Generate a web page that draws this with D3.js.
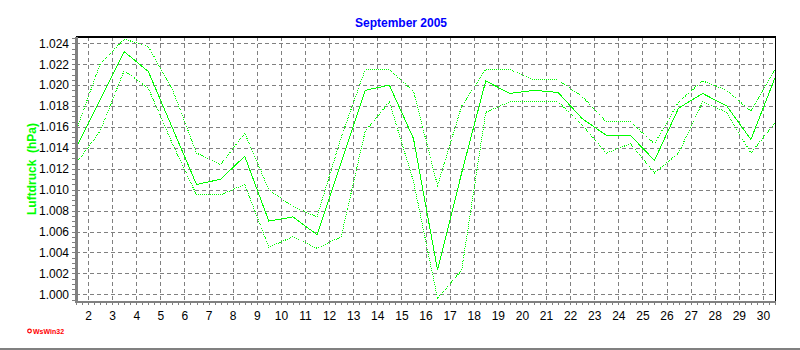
<!DOCTYPE html>
<html>
<head>
<meta charset="utf-8">
<script src="https://cdn.jsdelivr.net/npm/d3@7"></script>
<style>
  body { margin: 0; background: #fff; }
  #chart { width: 800px; height: 350px; }
</style>
</head>
<body>
<div id="chart"></div>
<script>
// Luftdruck September 2005 (hPa), one value per day
const days = d3.range(1, 31);
const meanPressure = [1014.0, 1018.6, 1023.2, 1021.3, 1015.9, 1010.5, 1011.0, 1013.2, 1007.0, 1007.4,
    1005.7, 1012.6, 1019.5, 1020.0, 1014.9, 1002.3, 1011.6, 1020.4, 1019.2, 1019.5,
    1019.3, 1016.8, 1015.2, 1015.2, 1012.8, 1017.8, 1019.2, 1018.0, 1014.8, 1020.7];
const maxPressure = [1015.6, 1022.0, 1024.4, 1023.7, 1019.6, 1013.5, 1012.4, 1015.4, 1010.0, 1008.4,
    1007.4, 1015.0, 1021.5, 1021.5, 1019.4, 1010.4, 1018.0, 1021.5, 1021.5, 1020.5,
    1020.5, 1018.9, 1016.5, 1016.5, 1014.4, 1018.4, 1020.4, 1019.5, 1017.5, 1021.5];
const minPressure = [1012.5, 1015.6, 1021.4, 1019.7, 1014.4, 1009.5, 1009.5, 1010.5, 1004.5, 1005.5,
    1004.4, 1005.5, 1015.6, 1018.4, 1010.8, 999.6, 1002.3, 1017.4, 1018.4, 1018.4,
    1018.4, 1016.2, 1013.5, 1014.4, 1011.6, 1013.5, 1018.4, 1017.4, 1013.5, 1016.4];
const xTickDays = d3.range(2, 31);
const yTickValues = d3.range(1000, 1025, 2);

const TITLE = "September 2005";
const Y_TITLE = "Luftdruck\u00a0\u00a0(hPa)";

const width = 800;
const height = 350;
const margin = ({ top: 37, right: 25, bottom: 49, left: 76 });

const deLocale = d3.formatLocale({ decimal: ",", thousands: ".", grouping: [3], currency: ["", " €"] });
const fmt = deLocale.format(",");

const xScale = d3.scaleLinear()
    .domain([1.5, 30.5])
    .range([margin.left, width - margin.right]);

const yScale = d3.scaleLinear()
    .domain([999.36, 1024.6])
    .range([height - margin.bottom, margin.top]);

const svg = d3.select("#chart")
    .append("svg")
    .attr("width", width)
    .attr("height", height)
    .attr("viewBox", [0, 0, width, height])
    .style("font-family", "Arial, 'Liberation Sans', sans-serif");

// grid
svg.append("g")
    .attr("stroke", "#808080")
    .attr("stroke-dasharray", "4,3")
    .attr("shape-rendering", "crispEdges")
    .call(g => g.selectAll("line.h")
        .data(yTickValues)
        .join("line")
        .attr("class", "h")
        .attr("x1", margin.left)
        .attr("x2", width - margin.right)
        .attr("y1", d => Math.round(yScale(d)) + 0.5)
        .attr("y2", d => Math.round(yScale(d)) + 0.5))
    .call(g => g.selectAll("line.v")
        .data(xTickDays)
        .join("line")
        .attr("class", "v")
        .attr("x1", d => Math.round(xScale(d)) + 0.5)
        .attr("x2", d => Math.round(xScale(d)) + 0.5)
        .attr("y1", margin.top)
        .attr("y2", height - margin.bottom));

// frame: black top/right, gray thick left/bottom
svg.append("rect")
    .attr("x", margin.left)
    .attr("y", margin.top - 1)
    .attr("width", width - margin.right - margin.left + 1)
    .attr("height", 2)
    .attr("fill", "#000");

svg.append("rect")
    .attr("x", width - margin.right)
    .attr("y", margin.top - 1)
    .attr("width", 1)
    .attr("height", height - margin.bottom - margin.top + 1)
    .attr("fill", "#000");

// lines
const line = data => d3.line()
    .x((d, i) => xScale(days[i] + 0.5))
    .y(d => yScale(d))(data);

const series = [
    { values: maxPressure, dash: "1,1" },
    { values: minPressure, dash: "1,1" },
    { values: meanPressure, dash: null }
];

svg.append("g")
    .attr("fill", "none")
    .attr("stroke", "#00ff00")
    .attr("stroke-width", 1)
    .attr("shape-rendering", "crispEdges")
    .selectAll("path")
    .data(series)
    .join("path")
    .attr("stroke-dasharray", d => d.dash)
    .attr("d", d => line(d.values));

// x axis
const xAxis = g => g
    .attr("transform", `translate(0,${height - margin.bottom})`)
    .call(d3.axisBottom(xScale)
        .tickValues(xTickDays)
        .tickFormat(d3.format("d"))
        .tickSize(0)
        .tickPadding(10))
    .call(g => g.select(".domain").remove())
    .call(g => g.selectAll("text").attr("font-size", 12).attr("fill", "#000"));

const xMinor = g => g
    .attr("stroke", "#808080")
    .attr("shape-rendering", "crispEdges")
    .selectAll("line")
    .data(d3.range(1.5, 30.51, 0.25))
    .join("line")
    .attr("x1", d => Math.round(xScale(d)) + 0.5)
    .attr("x2", d => Math.round(xScale(d)) + 0.5)
    .attr("y1", height - margin.bottom)
    .attr("y2", height - margin.bottom + 4);

// y axis
const yAxis = g => g
    .attr("transform", `translate(${margin.left},0)`)
    .call(d3.axisLeft(yScale)
        .tickValues(yTickValues)
        .tickFormat(fmt)
        .tickSize(0)
        .tickPadding(7))
    .call(g => g.select(".domain").remove())
    .call(g => g.selectAll("text").attr("font-size", 12).attr("fill", "#000"));

const yMinor = g => g
    .attr("stroke", "#808080")
    .attr("shape-rendering", "crispEdges")
    .selectAll("line")
    .data(d3.range(999.5, 1024.6, 0.5))
    .join("line")
    .attr("x1", margin.left - 4)
    .attr("x2", margin.left)
    .attr("y1", d => Math.round(yScale(d)) + 0.5)
    .attr("y2", d => Math.round(yScale(d)) + 0.5);

svg.append("g").call(xMinor);
svg.append("g").call(yMinor);
svg.append("g").call(xAxis);
svg.append("g").call(yAxis);

svg.append("rect")
    .attr("x", margin.left - 1)
    .attr("y", margin.top)
    .attr("width", 3)
    .attr("height", height - margin.bottom - margin.top + 2)
    .attr("fill", "#808080");

svg.append("rect")
    .attr("x", margin.left - 1)
    .attr("y", height - margin.bottom)
    .attr("width", width - margin.right - margin.left + 2)
    .attr("height", 2)
    .attr("fill", "#808080");

// titles
svg.append("text")
    .attr("x", 401)
    .attr("y", 27)
    .attr("text-anchor", "middle")
    .attr("font-size", 12)
    .attr("font-weight", "bold")
    .attr("fill", "#0000ff")
    .text(TITLE);

svg.append("text")
    .attr("transform", `translate(36,${(margin.top + height - margin.bottom) / 2}) rotate(-90)`)
    .attr("text-anchor", "middle")
    .attr("font-size", 12)
    .attr("font-weight", "bold")
    .attr("fill", "#00ff00")
    .text(Y_TITLE);

// WsWin32 mark
svg.append("circle")
    .attr("cx", 29.5)
    .attr("cy", 331)
    .attr("r", 1.8)
    .attr("fill", "none")
    .attr("stroke", "#ff0000")
    .attr("stroke-width", 1.2);

svg.append("text")
    .attr("x", 33)
    .attr("y", 334)
    .attr("font-size", 7)
    .attr("font-weight", "bold")
    .attr("fill", "#ff0000")
    .text("WsWin32");

svg.append("rect")
    .attr("x", 0)
    .attr("y", height - 2)
    .attr("width", width)
    .attr("height", 2)
    .attr("fill", "#808080");
</script>
</body>
</html>
